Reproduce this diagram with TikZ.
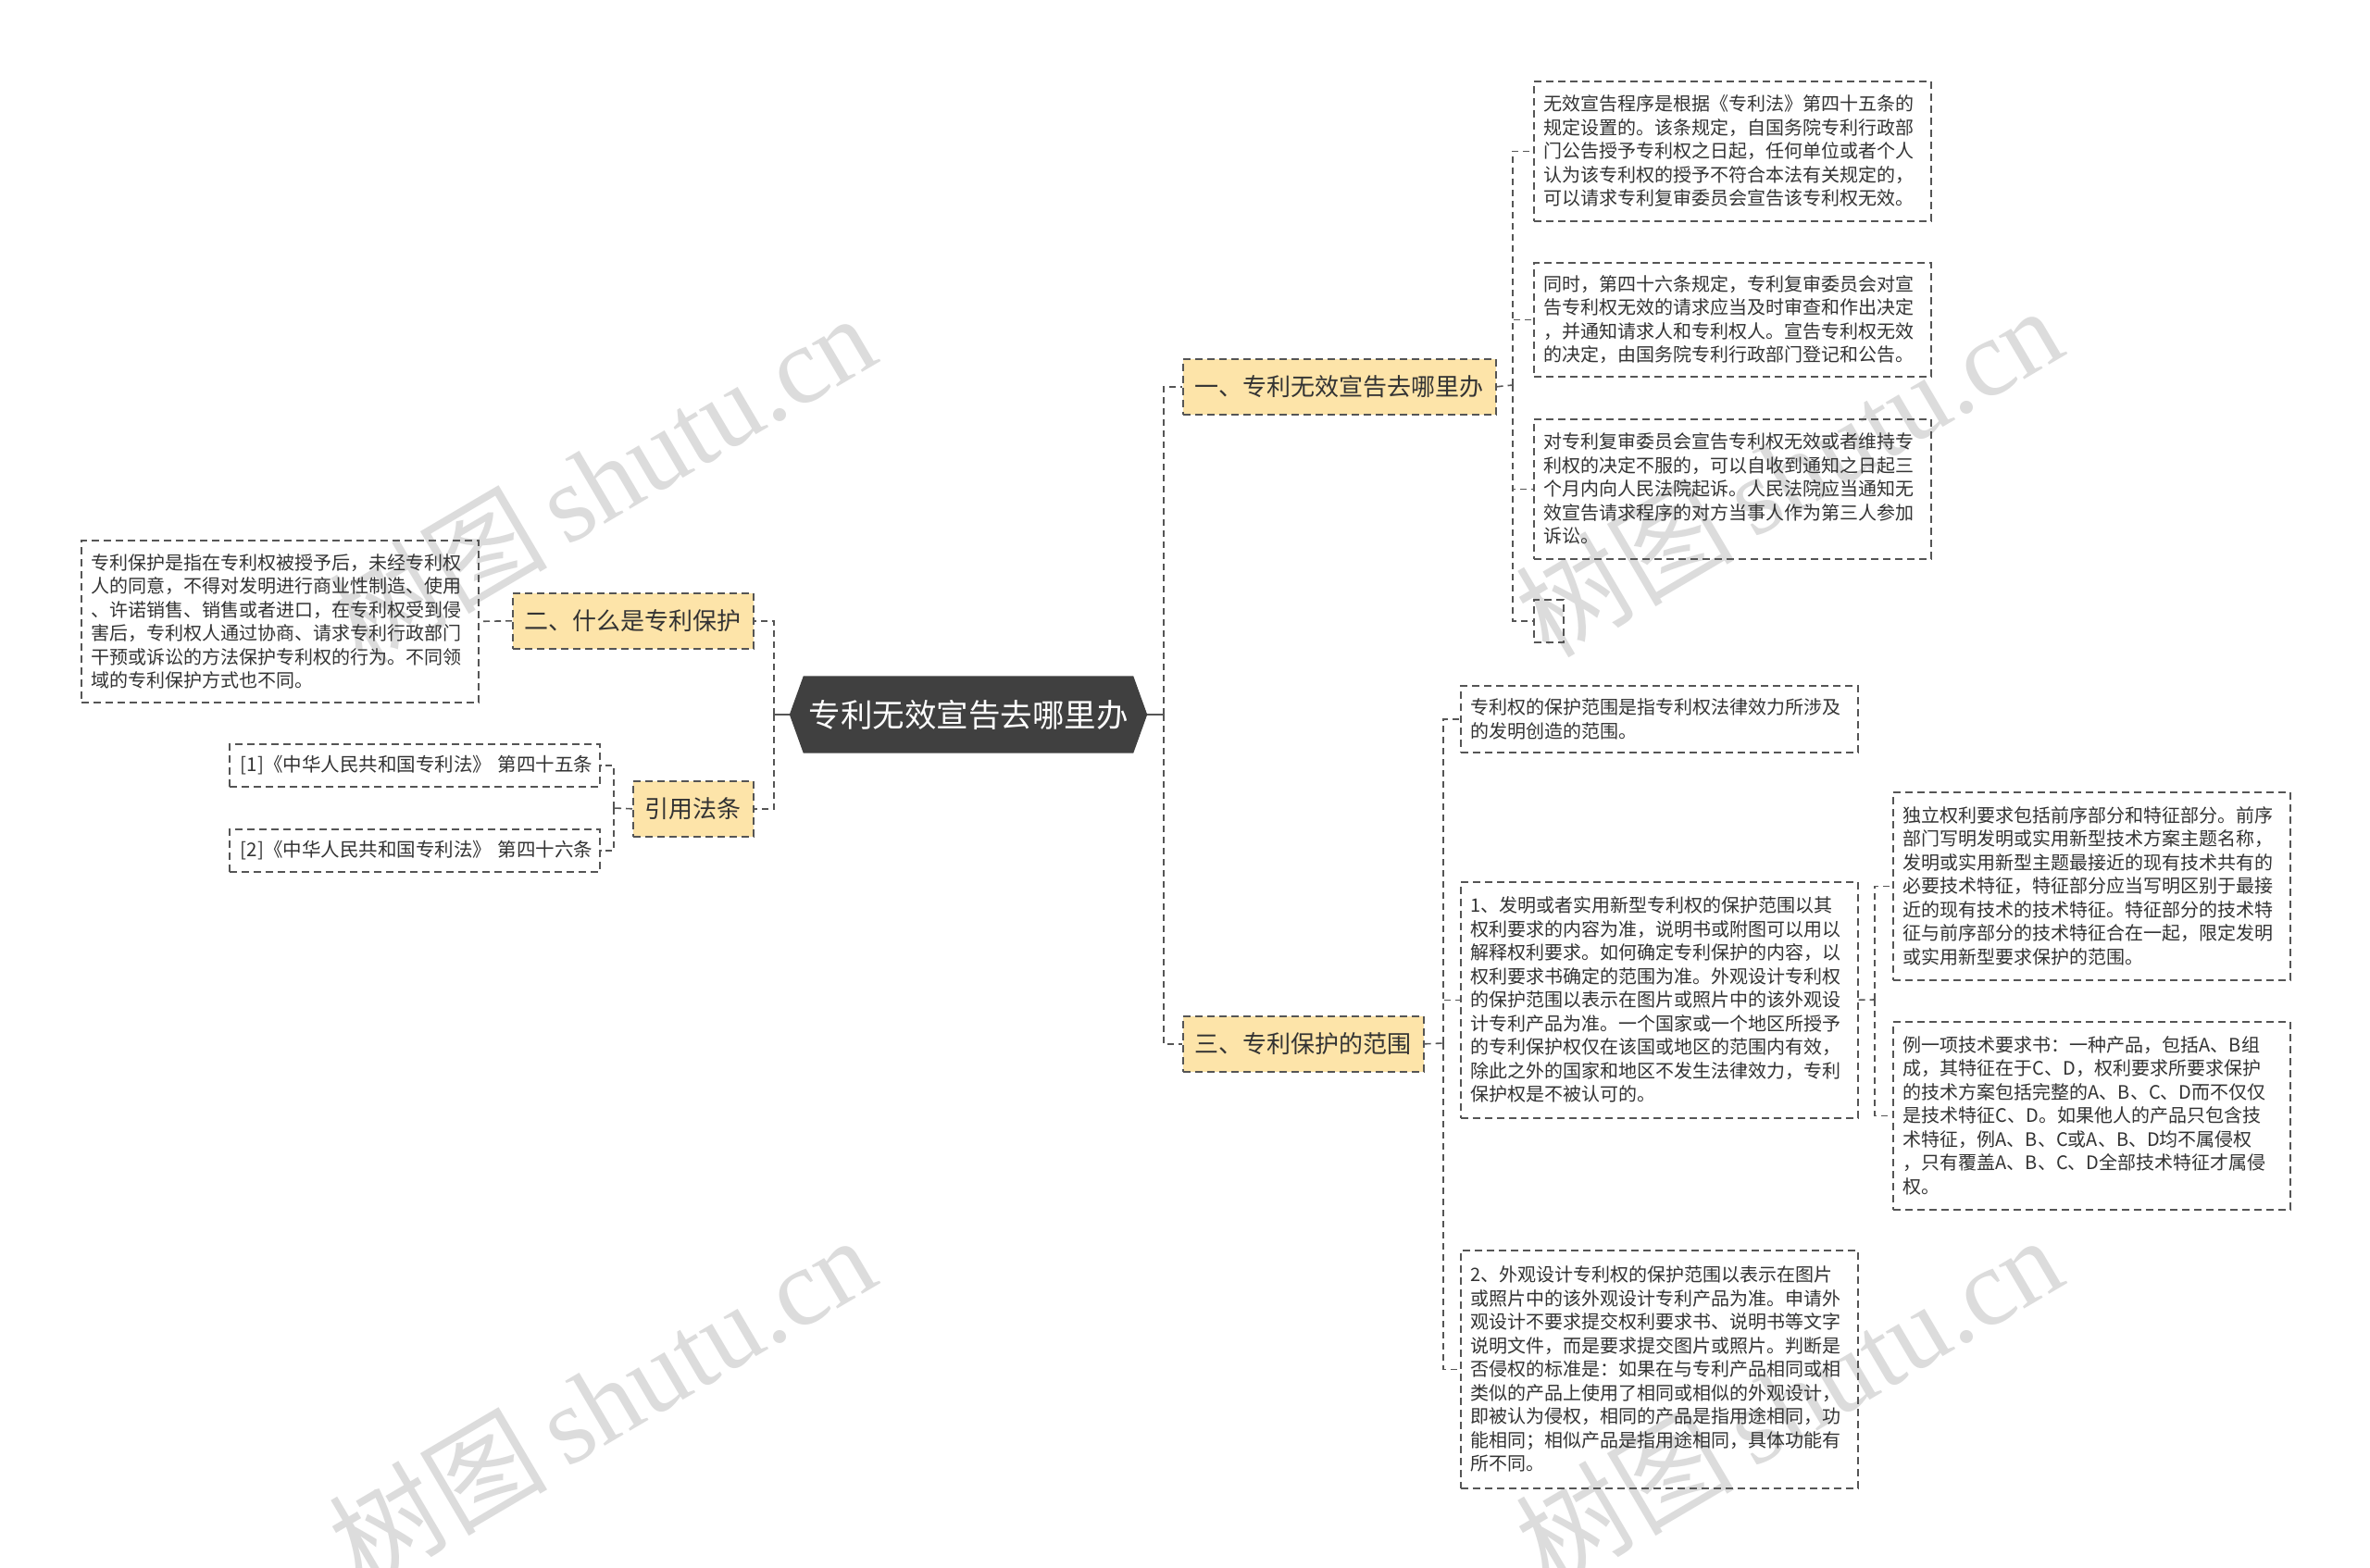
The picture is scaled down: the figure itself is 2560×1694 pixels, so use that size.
\documentclass[tikz,border=0pt]{standalone}
\usepackage{fontspec}
\setmainfont{Noto Sans CJK SC}
\newfontfamily\wmserif{Liberation Serif}
\usetikzlibrary{calc,backgrounds}
\definecolor{linec}{HTML}{555555}
\definecolor{txt}{HTML}{333333}
\definecolor{branchfill}{HTML}{FDE4A9}
\definecolor{rootfill}{HTML}{404040}
\definecolor{wmc}{HTML}{DCDCDC}
\begin{document}
\begin{tikzpicture}[x=1pt,y=-1pt,
  link/.style={draw=linec,line width=1.6pt,dash pattern=on 7pt off 5pt},
  solidlink/.style={draw=linec,line width=1.6pt},
  leaf/.style={draw=linec,line width=1.6pt,dash pattern=on 8pt off 5pt,anchor=north west,inner xsep=11pt,inner ysep=0pt,align=left,text=txt,font=\fontsize{20}{25.5}\selectfont},
  branch/.style={draw=linec,fill=branchfill,line width=1.6pt,dash pattern=on 8pt off 5pt,anchor=north west,inner xsep=13pt,inner ysep=0pt,minimum height=60pt,text=txt,font=\fontsize{26}{30}\selectfont},
  rootnode/.style={minimum width=386pt,minimum height=83pt,inner sep=0pt,text=white,font=\fontsize{34.5}{40}\selectfont},
  wm/.style={text=wmc,rotate=30.5,inner sep=0pt,font=\fontsize{118}{120}\selectfont}
]
\useasboundingbox (0,0) rectangle (2560,1694);
% watermarks
\node[wm] (w1) at (650,516) {树图\,{\wmserif shutu.cn}};
\node[wm] (w2) at (1932,508) {树图\,{\wmserif shutu.cn}};
\node[wm] (w3) at (650,1512) {树图\,{\wmserif shutu.cn}};
\node[wm] (w4) at (1932,1512) {树图\,{\wmserif shutu.cn}};

% root
\node[rootnode] (root) at (1046,772) {专利无效宣告去哪里办};
\begin{scope}[on background layer]
\fill[white] (0,0) rectangle (2560,1694);
\fill[rootfill] (root.west) -- ($(root.north west)+(15,0)$) -- ($(root.north east)+(-15,0)$) -- (root.east) -- ($(root.south east)+(-15,0)$) -- ($(root.south west)+(15,0)$) -- cycle;
\end{scope}

% branches
\node[branch] (b1) at (1277,387) {一、专利无效宣告去哪里办};
\node[branch] (b3) at (1277,1097) {三、专利保护的范围};
\node[branch] (b2) at (553,640) {二、什么是专利保护};
\node[branch] (cite) at (683,843) {引用法条};

% leaves of branch one
\node[leaf,text width=407pt,minimum height=151pt] (a1) at (1656,87) {无效宣告程序是根据《专利法》第四十五条的\\规定设置的。该条规定，自国务院专利行政部\\门公告授予专利权之日起，任何单位或者个人\\认为该专利权的授予不符合本法有关规定的，\\可以请求专利复审委员会宣告该专利权无效。};
\node[leaf,text width=407pt,minimum height=123pt] (a2) at (1656,283) {同时，第四十六条规定，专利复审委员会对宣\\告专利权无效的请求应当及时审查和作出决定\\，并通知请求人和专利权人。宣告专利权无效\\的决定，由国务院专利行政部门登记和公告。};
\node[leaf,text width=407pt,minimum height=151pt] (a3) at (1656,452) {对专利复审委员会宣告专利权无效或者维持专\\利权的决定不服的，可以自收到通知之日起三\\个月内向人民法院起诉。人民法院应当通知无\\效宣告请求程序的对方当事人作为第三人参加\\诉讼。};
\node[leaf,inner xsep=0pt,minimum width=32pt,minimum height=46pt] (a4) at (1656,647) {};

% leaves of branch three
\node[leaf,text width=407pt,minimum height=72pt] (c1) at (1577,740) {专利权的保护范围是指专利权法律效力所涉及\\的发明创造的范围。};
\node[leaf,text width=407pt,minimum height=255pt] (c2) at (1577,952) {1、发明或者实用新型专利权的保护范围以其\\权利要求的内容为准，说明书或附图可以用以\\解释权利要求。如何确定专利保护的内容，以\\权利要求书确定的范围为准。外观设计专利权\\的保护范围以表示在图片或照片中的该外观设\\计专利产品为准。一个国家或一个地区所授予\\的专利保护权仅在该国或地区的范围内有效，\\除此之外的国家和地区不发生法律效力，专利\\保护权是不被认可的。};
\node[leaf,text width=407pt,minimum height=257pt] (c3) at (1577,1350) {2、外观设计专利权的保护范围以表示在图片\\或照片中的该外观设计专利产品为准。申请外\\观设计不要求提交权利要求书、说明书等文字\\说明文件，而是要求提交图片或照片。判断是\\否侵权的标准是：如果在与专利产品相同或相\\类似的产品上使用了相同或相似的外观设计，\\即被认为侵权，相同的产品是指用途相同，功\\能相同；相似产品是指用途相同，具体功能有\\所不同。};
\node[leaf,text width=407pt,minimum height=203pt] (d1) at (2044,855) {独立权利要求包括前序部分和特征部分。前序\\部门写明发明或实用新型技术方案主题名称，\\发明或实用新型主题最接近的现有技术共有的\\必要技术特征，特征部分应当写明区别于最接\\近的现有技术的技术特征。特征部分的技术特\\征与前序部分的技术特征合在一起，限定发明\\或实用新型要求保护的范围。};
\node[leaf,text width=407pt,minimum height=203pt] (d2) at (2044,1103) {例一项技术要求书：一种产品，包括A、B组\\成，其特征在于C、D，权利要求所要求保护\\的技术方案包括完整的A、B、C、D而不仅仅\\是技术特征C、D。如果他人的产品只包含技\\术特征，例A、B、C或A、B、D均不属侵权\\，只有覆盖A、B、C、D全部技术特征才属侵\\权。};

% leaf of branch two
\node[leaf,text width=407pt,minimum height=175pt] (e1) at (87,583) {专利保护是指在专利权被授予后，未经专利权\\人的同意，不得对发明进行商业性制造、使用\\、许诺销售、销售或者进口，在专利权受到侵\\害后，专利权人通过协商、请求专利行政部门\\干预或诉讼的方法保护专利权的行为。不同领\\域的专利保护方式也不同。};

% citations
\node[leaf,inner xsep=12pt,text width=376pt,minimum height=46pt,font=\fontsize{20.5}{25}\selectfont] (f1) at (247,803) {\mbox{[1]《中华人民共和国专利法》 第四十五条}};
\node[leaf,inner xsep=12pt,text width=376pt,minimum height=46pt,font=\fontsize{20.5}{25}\selectfont] (f2) at (247,895) {\mbox{[2]《中华人民共和国专利法》 第四十六条}};

% junctions
\coordinate (rj) at (1257,772);
\coordinate (lj) at (836,772);
\coordinate (aj) at (1634,416);
\coordinate (cj) at (1559,1127);
\coordinate (dj) at (2025,1080);
\coordinate (fj) at (663,873);

% connectors
\draw[solidlink] (root.east) -- (rj);
\draw[solidlink] (root.west) -- (lj);
\draw[link] (rj) |- (b1.west);
\draw[link] (rj) |- (b3.west);
\draw[link] (lj) |- (b2.east);
\draw[link] (lj) |- (cite.east);

\draw[link] (b1.east) -- (aj);
\draw[link] (aj) |- (a1.west);
\draw[link] (aj) |- (a2.west);
\draw[link] (aj) |- (a3.west);
\draw[link] (aj) |- (a4.west);

\draw[link] (b3.east) -- (cj);
\draw[link] (cj) |- (c1.west);
\draw[link] (cj) |- (c2.west);
\draw[link] (cj) |- (c3.west);

\draw[link] (c2.east) -- (dj);
\draw[link] (dj) |- (d1.west);
\draw[link] (dj) |- (d2.west);

\draw[link] (b2.west) -- (e1.east);

\draw[link] (cite.west) -- (fj);
\draw[link] (fj) |- (f1.east);
\draw[link] (fj) |- (f2.east);
\end{tikzpicture}
\end{document}
